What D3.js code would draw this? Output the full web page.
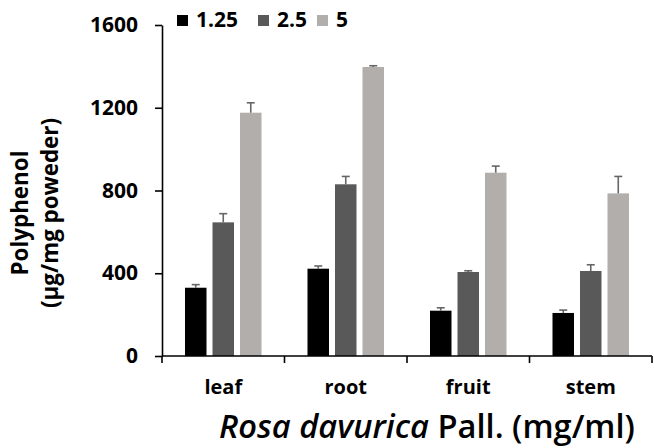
<!DOCTYPE html>
<html><head><meta charset="utf-8">
<script src="https://cdn.jsdelivr.net/npm/d3@7"></script>
<style>body{margin:0;background:#fff}svg{display:block}text{font-family:"Open Sans","Noto Sans",sans-serif}</style>
</head><body><div id="chart"></div>
<script>
const categories = ["leaf", "root", "fruit", "stem"];
const seriesNames = ["1.25", "2.5", "5"];
const values125 = [330, 422, 219, 208];
const values25 = [646, 830, 406, 411];
const values5 = [1176, 1397, 886, 786];
const errors125 = [15, 13, 14, 14];
const errors25 = [42, 38, 6, 30];
const errors5 = [48, 6, 32, 82];
const yTicks = [0, 400, 800, 1200, 1600];
const colors = ["#000000", "#595959", "#b2aeab"];

const W = 654, H = 448;
const svg = d3.select("#chart").append("svg").attr("width", W).attr("height", H);

// scale a text's font size so its width matches a target width
function fit(sel, targetW) {
  const node = sel.node();
  const fs = parseFloat(sel.attr("font-size"));
  const w = node.getBBox().width;
  if (w > 0) sel.attr("font-size", (fs * targetW / w).toFixed(2));
  return parseFloat(sel.attr("font-size"));
}

const x0 = d3.scaleBand().domain(categories).range([162, 652]).padding(0);
const x1 = d3.scaleBand().domain(seriesNames).range([0, x0.bandwidth()]).paddingInner(0.218).paddingOuter(0.836);
const y = d3.scaleLinear().domain([0, 1600]).range([356, 25]);

const seriesVals = [values125, values25, values5];
const seriesErr = [errors125, errors25, errors5];
const data = [];
seriesNames.forEach((s, si) => categories.forEach((c, ci) => data.push({s, si, c, v: seriesVals[si][ci], e: seriesErr[si][ci]})));

// bars
svg.append("g").selectAll("rect").data(data).join("rect")
  .attr("x", d => x0(d.c) + x1(d.s))
  .attr("y", d => y(d.v))
  .attr("width", x1.bandwidth())
  .attr("height", d => y(0) - y(d.v))
  .attr("fill", d => colors[d.si]);

// error bars (upper only)
const eg = svg.append("g").attr("stroke", "#666").attr("stroke-width", 1.6);
data.forEach(d => {
  const cx = x0(d.c) + x1(d.s) + x1.bandwidth() / 2;
  eg.append("line").attr("x1", cx).attr("x2", cx).attr("y1", y(d.v)).attr("y2", y(d.v + d.e));
  eg.append("line").attr("x1", cx - 4).attr("x2", cx + 4).attr("y1", y(d.v + d.e)).attr("y2", y(d.v + d.e));
});

// y axis
const yAxis = svg.append("g").attr("transform", "translate(162,0)")
  .call(d3.axisLeft(y).tickValues(yTicks).tickFormat(d3.format("d")).tickSize(7).tickSizeOuter(0).tickPadding(17));
yAxis.select(".domain").attr("stroke", "#000").attr("stroke-width", 1.6);
yAxis.selectAll(".tick line").attr("stroke", "#000").attr("stroke-width", 1.6);
yAxis.selectAll(".tick text").attr("font-size", 21).attr("font-weight", 700).attr("fill", "#000")
  .attr("font-family", "'Open Sans', sans-serif");

// x axis
const xg = svg.append("g");
xg.append("line").attr("x1", x0.range()[0]).attr("x2", x0.range()[1]).attr("y1", y(0)).attr("y2", y(0))
  .attr("stroke", "#000").attr("stroke-width", 1.6);
const bounds = categories.map(c => x0(c)).concat([x0.range()[1]]);
xg.selectAll(".xt").data(bounds).join("line").attr("class", "xt")
  .attr("x1", d => d).attr("x2", d => d).attr("y1", y(0)).attr("y2", y(0) + 7)
  .attr("stroke", "#000").attr("stroke-width", 1.6);
xg.selectAll(".xl").data(categories).join("text").attr("class", "xl")
  .attr("x", d => x0(d) + x0.bandwidth() / 2).attr("y", 394)
  .attr("text-anchor", "middle").attr("font-size", 20).attr("font-weight", 700).text(d => d);

// x title
const xt = svg.append("text").attr("x", 427).attr("y", 438).attr("text-anchor", "middle")
  .attr("font-size", 26).attr("font-weight", 600).attr("fill", "#000");
xt.append("tspan").attr("font-style", "italic").text("Rosa davurica");
xt.append("tspan").text(" Pall. (mg/ml)");
fit(xt, 416);

// y title
const yt = svg.append("g").attr("transform", "translate(0,213) rotate(-90)");
const yt1 = yt.append("text").attr("x", 0).attr("y", 28).attr("text-anchor", "middle")
  .attr("font-size", 20).attr("font-weight", 700).text("Polyphenol");
fit(yt1, 125);
const yt2 = yt.append("text").attr("x", 0).attr("y", 58).attr("text-anchor", "middle")
  .attr("font-size", 20).attr("font-weight", 700).text("(µg/mg poweder)");
fit(yt2, 190);

// legend
const legX = [177, 258, 317];
const lg = svg.append("g");
const legTexts = [];
seriesNames.forEach((s, i) => {
  lg.append("rect").attr("x", legX[i]).attr("y", 15).attr("width", 11).attr("height", 11).attr("fill", colors[i]);
  legTexts.push(lg.append("text").attr("x", legX[i] + 19).attr("y", 27).attr("font-size", 18).attr("font-weight", 700).text(s));
});
{
  const fs = fit(legTexts[0], 42);
  legTexts.forEach(t => t.attr("font-size", fs));
}
</script></body></html>
